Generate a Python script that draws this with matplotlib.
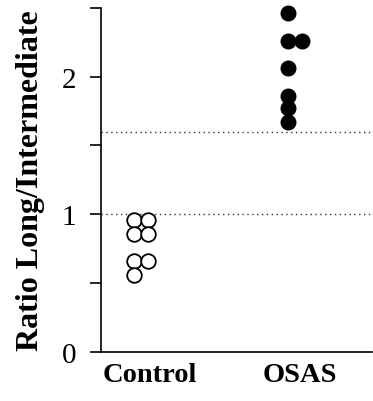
import numpy as np
import matplotlib.pyplot as plt

# data
groups = ["Control", "OSAS"]
control = [0.96, 0.96, 0.86, 0.86, 0.66, 0.66, 0.56]
control_col = [0, 1, 0, 1, 0, 1, 0]
osas = [2.46, 2.26, 2.26, 2.06, 1.86, 1.77, 1.67]
osas_col = [0, 0, 1, 0, 0, 0, 0]
ref_lines = [1.0, 1.6]

plt.rcParams["font.family"] = ["Liberation Serif", "DejaVu Serif"]

fig = plt.figure(figsize=(3.73, 4.02), dpi=100)
ax = fig.add_axes([0.271, 0.122, 0.726, 0.856])

base = {"Control": 0.49, "OSAS": 2.76}
dx = 0.21

cx = base["Control"] + dx * np.array(control_col)
ox = base["OSAS"] + dx * np.array(osas_col)

for y in ref_lines:
    ax.axhline(y, color="#333333", lw=1.0, ls=(0, (1, 2.5)), zorder=1)

ax.plot(cx, control, "o", ms=10.5, mfc="white", mec="black", mew=1.3,
        ls="none", clip_on=False, zorder=3)
ax.plot(ox, osas, "o", ms=10.5, mfc="black", mec="black",
        ls="none", clip_on=False, zorder=3)

ax.set_xlim(0, 4)
ax.set_ylim(0, 2.5)
ax.set_yticks([0, 1, 2])
ax.set_yticks([0.5, 1.5, 2.5], minor=True)
ax.set_xticks([0.72, 2.93])
ax.set_xticklabels(groups, fontsize=20.5, fontweight="bold")
ax.tick_params(axis="x", length=0, pad=7)
ax.tick_params(axis="y", which="both", direction="out", length=8, width=1.2,
               labelsize=21, pad=10)
ax.set_ylabel("Ratio Long/Intermediate", fontsize=23, fontweight="bold",
              labelpad=12)

for s in ["top", "right"]:
    ax.spines[s].set_visible(False)
for s in ["left", "bottom"]:
    ax.spines[s].set_linewidth(1.2)

fig.savefig("out.png", dpi=100)
